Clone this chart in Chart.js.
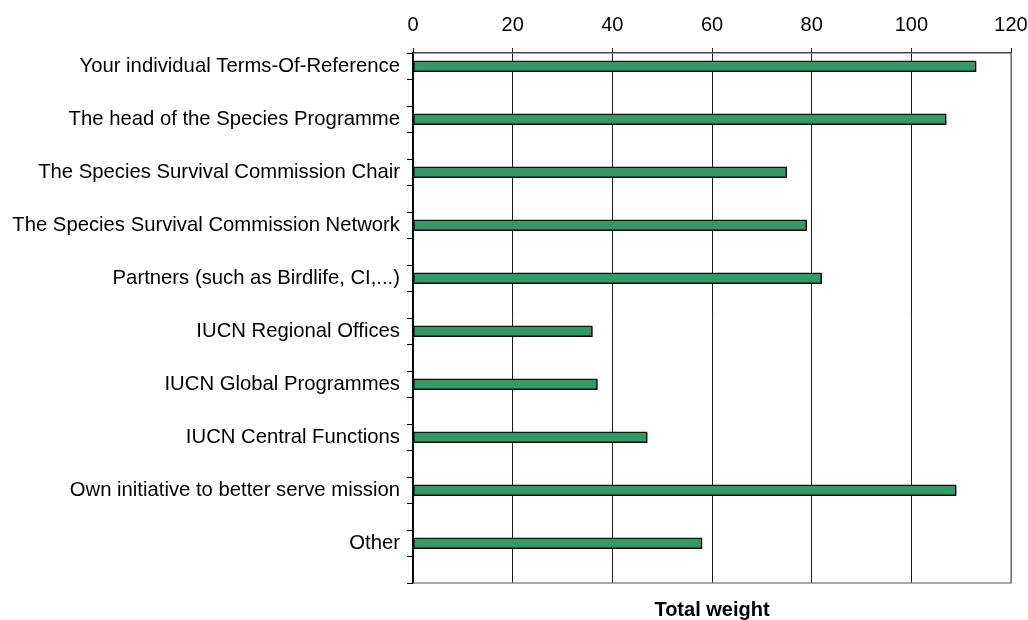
<!DOCTYPE html>
<html>
<head>
<meta charset="utf-8">
<script src="https://cdn.jsdelivr.net/npm/chart.js@4/dist/chart.umd.min.js"></script>
<style>
  html, body { margin: 0; padding: 0; background: #fff; }
  #wrap { width: 1028px; height: 620px; }
</style>
</head>
<body>
<div id="wrap"><canvas id="myChart" width="1028" height="620"></canvas></div>
<script>
var categories = [
  'Your individual Terms-Of-Reference',
  'The head of the Species Programme',
  'The Species Survival Commission Chair',
  'The Species Survival Commission Network',
  'Partners (such as Birdlife, CI,...)',
  'IUCN Regional Offices',
  'IUCN Global Programmes',
  'IUCN Central Functions',
  'Own initiative to better serve mission',
  'Other'
]
var totalWeight = [113, 107, 75, 79, 82, 36, 37, 47, 109, 58]
var xTicks = [0, 20, 40, 60, 80, 100, 120]

// every category gets an empty slot below it, as in the original sheet
var rowLabels = []
var rowValues = []
categories.forEach(function(item, index) {
  rowLabels.push(item)
  rowValues.push(totalWeight[index])
  rowLabels.push('')
  rowValues.push(null)
})

var plotFrame = {
  id: 'plotFrame',
  beforeDatasetsDraw: function(chart) {
    var ctx = chart.ctx
    ctx.save()
    ctx.shadowColor = 'rgba(0,0,0,0.35)'
    ctx.shadowOffsetX = 1
    ctx.shadowOffsetY = 1.5
    ctx.shadowBlur = 1
  },
  afterDatasetsDraw: function(chart) {
    var ctx = chart.ctx
    ctx.restore()
    var a = chart.chartArea
    ctx.save()
    ctx.strokeStyle = '#8c8c8c'
    ctx.lineWidth = 1.5
    ctx.beginPath()
    ctx.moveTo(a.left, a.bottom)
    ctx.lineTo(a.right, a.bottom)
    ctx.lineTo(a.right, a.top)
    ctx.stroke()
    ctx.restore()
  }
}

var ctx = document.getElementById('myChart')
var myBarChart = new Chart(ctx, {
  type: 'bar',
  data: {
    labels: rowLabels,
    datasets: [{
      data: rowValues,
      label: 'Total weight',
      backgroundColor: '#339966',
      borderColor: '#111111',
      borderWidth: 1.5,
      borderSkipped: false,
      barThickness: 11,
    }]
  },
  options: {
    indexAxis: 'y',
    responsive: false,
    animation: false,
    layout: { padding: { left: 0, right: 17, top: 0, bottom: 0 } },
    plugins: {
      legend: { display: false },
      tooltip: { enabled: false },
      title: { display: false }
    },
    scales: {
      x: {
        position: 'top',
        min: xTicks[0],
        max: xTicks[xTicks.length - 1],
        afterBuildTicks: function(scale) {
          scale.ticks = xTicks.map(function(v) { return { value: v } })
        },
        afterFit: function(scale) {
          scale.height = 53
          scale.paddingLeft = 0
          scale.paddingRight = 0
        },
        ticks: {
          color: '#000',
          padding: 11,
          maxRotation: 0,
          font: { family: 'Liberation Sans', size: 20 }
        },
        grid: { color: '#1a1a1a', lineWidth: 1, tickLength: 5 },
        border: { color: '#444444', width: 1.5 }
      },
      xTitle: {
        type: 'linear',
        position: 'bottom',
        min: xTicks[0],
        max: xTicks[xTicks.length - 1],
        afterFit: function(scale) {
          scale.height = 37
          scale.paddingLeft = 0
          scale.paddingRight = 0
        },
        ticks: { display: false },
        grid: { display: false },
        border: { display: false },
        title: {
          display: true,
          text: 'Total weight',
          color: '#000',
          font: { family: 'Liberation Sans', size: 20, weight: 'bold', lineHeight: 1 },
          padding: { top: 0, bottom: 0 }
        }
      },
      y: {
        afterFit: function(scale) { scale.width = 413 },
        ticks: {
          autoSkip: false,
          color: '#000',
          padding: 7,
          font: { family: 'Liberation Sans', size: 20.3 }
        },
        grid: { drawOnChartArea: false, color: '#000', tickLength: 6, offset: true },
        border: { color: '#000', width: 1.5 }
      }
    }
  },
  plugins: [plotFrame]
})
</script>
</body>
</html>
